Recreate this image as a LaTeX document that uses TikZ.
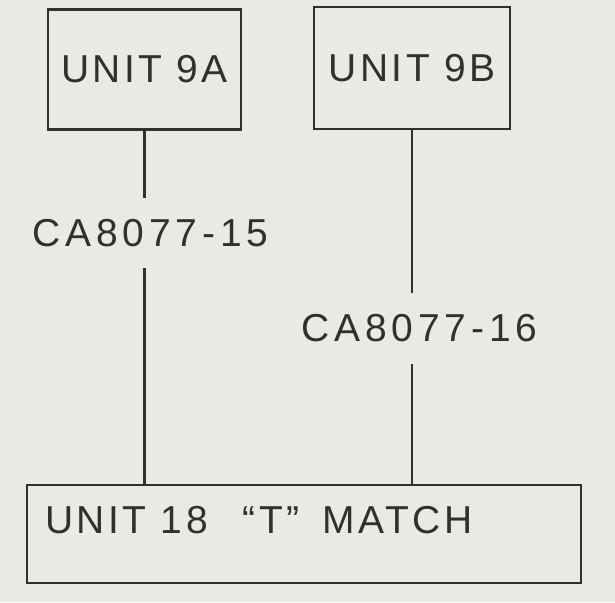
\documentclass[tikz,border=0pt]{standalone}
\usepackage{fontspec}
\setmainfont{Liberation Sans}
\usetikzlibrary{positioning}
\definecolor{paper}{RGB}{234,234,228}
\definecolor{ink}{RGB}{48,48,48}
\tikzset{
  unitbox/.style={draw=ink, line width=1.8pt, inner sep=0pt},
  cablelbl/.style={inner sep=0pt, minimum height=1.75cm},
  wire/.style={draw=ink, line width=1.5pt},
  stencil/.style={text=ink, font=\fontsize{27.7}{30}\selectfont\addfontfeature{LetterSpace=9}},
  widestencil/.style={text=ink, font=\fontsize{27.7}{30}\selectfont\addfontfeature{LetterSpace=12.5}}
}

\begin{document}
\begin{tikzpicture}[x=0.025cm, y=-0.025cm]
\fill[paper] (0,0) rectangle (615,602);
\useasboundingbox (0,0) rectangle (615,602);
% units
\node[unitbox, stencil, minimum width=4.825cm, minimum height=3cm] (unitA) at (144.5,69.5) {UNIT 9A};
\node[unitbox, stencil, minimum width=4.9cm, minimum height=3.05cm] (unitB) at (412,68) {UNIT 9B};
\node[unitbox, minimum width=13.85cm, minimum height=2.45cm] (match) at (304,534) {};
\node[stencil, anchor=west, inner sep=0pt] (matchlbl) at (45,520) {UNIT 18\hspace{0.9em}“T”\hspace{0.6em}MATCH};
% cables
\node[cablelbl, widestencil] (cableA) at (150.5,233) {CA8077-15};
\node[cablelbl, widestencil] (cableB) at (419.5,328.5) {CA8077-16};
\draw[wire] (unitA.south) -- (unitA.south |- cableA.north);
\draw[wire] (unitA.south |- cableA.south) -- (unitA.south |- match.north);
\draw[wire] (unitB.south) -- (unitB.south |- cableB.north);
\draw[wire] (unitB.south |- cableB.south) -- (unitB.south |- match.north);
\end{tikzpicture}
\end{document}
